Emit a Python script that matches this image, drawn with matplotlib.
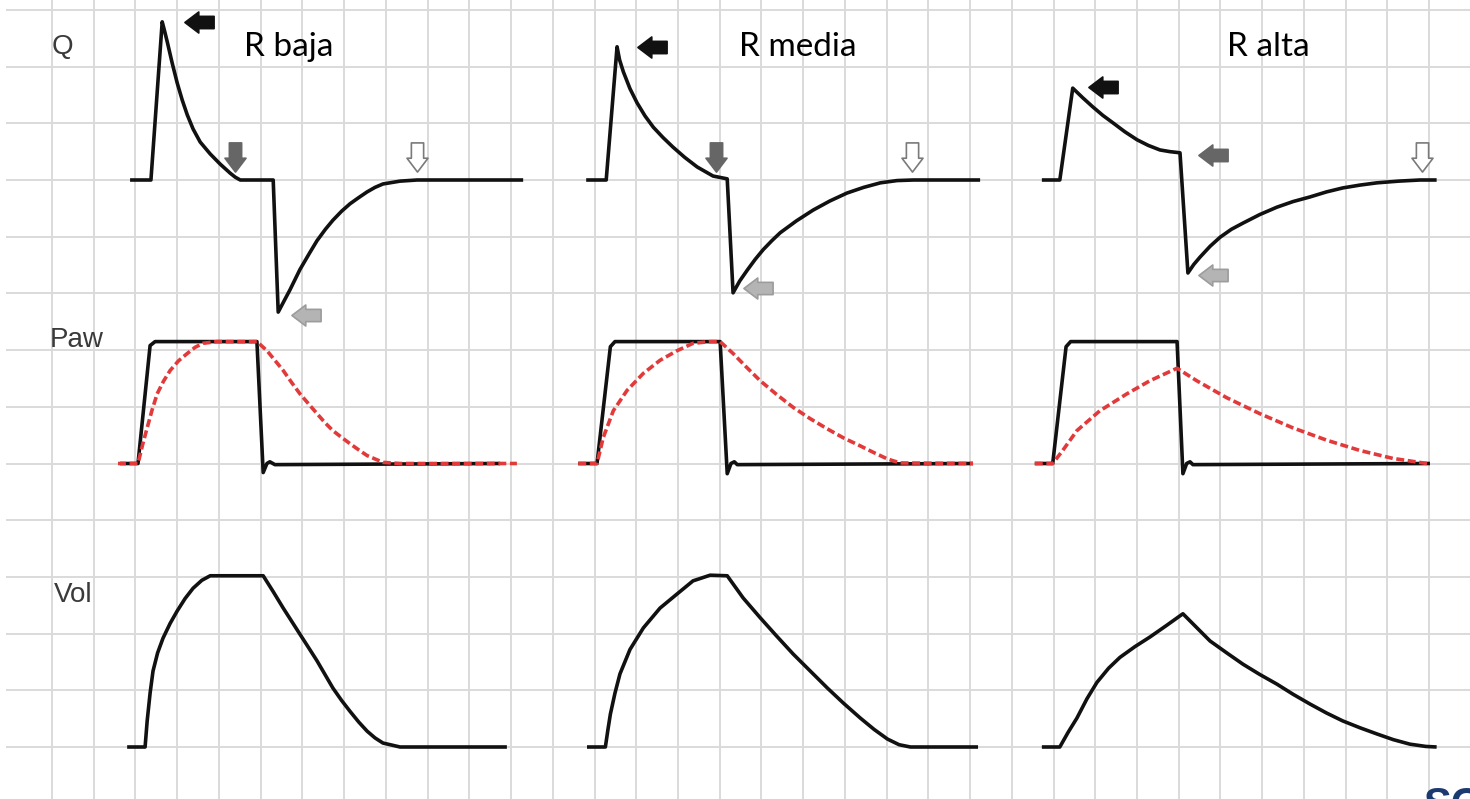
import numpy as np
import matplotlib
matplotlib.use("Agg")
import matplotlib.pyplot as plt
from matplotlib.path import Path

# grid geometry (one grid cell = one unit on each axis)
COL_PX = 41.73
ROW_PX = 56.7
W_PX, H_PX = 1470, 799
X_LEFT_PX = 10.3      # first vertical grid line
Y_BASE_PX = 747       # lowest horizontal grid line

PANEL_X0 = [2.87, 13.80, 24.72]     # start of each column of waves
BASE_Q, BASE_PAW, BASE_VOL = 10.0, 5.0, 0.0

titles = ["R baja", "R media", "R alta"]
title_dx = [3.79, 5.06, 5.42]

# ---- flow (Q) ----
q_baja_t = [0, 0.50, 0.77, 0.83, 0.89, 1.01, 1.13, 1.25, 1.37, 1.51, 1.68, 1.92, 2.16, 2.40, 2.52, 2.64, 3.43,
            3.55, 3.70, 3.83, 4.07, 4.30, 4.48, 4.68, 4.86, 5.07, 5.27, 5.48, 5.68, 5.87, 6.06, 6.47, 6.88, 9.42]
q_baja_v = [0, 0, 2.79, 2.62, 2.44, 2.06, 1.71, 1.41, 1.15, 0.90, 0.67, 0.46, 0.28, 0.12, 0.05, 0, 0,
            -2.33, -2.12, -1.94, -1.58, -1.29, -1.07, -0.87, -0.71, -0.55, -0.42, -0.31, -0.21, -0.13, -0.07, -0.02, 0, 0]

q_media_t = [0, 0.48, 0.74, 0.80, 0.89, 1.05, 1.22, 1.41, 1.61, 1.84, 2.08, 2.36, 2.66, 3.04, 3.38,
             3.52, 3.68, 3.86, 4.05, 4.24, 4.45, 4.65, 5.04, 5.44, 5.84, 6.25, 6.65, 7.05, 7.45, 7.84, 9.44]
q_media_v = [0, 0, 2.35, 2.12, 1.91, 1.61, 1.36, 1.13, 0.93, 0.75, 0.58, 0.40, 0.23, 0.07, 0.02,
             -1.99, -1.78, -1.59, -1.40, -1.23, -1.07, -0.93, -0.72, -0.53, -0.37, -0.23, -0.13, -0.05, -0.01, 0, 0]

q_alta_t = [0, 0.43, 0.74, 0.98, 1.22, 1.46, 1.70, 1.99, 2.28, 2.55, 2.83, 3.07, 3.31,
            3.50, 3.64, 3.79, 4.03, 4.27, 4.54, 4.82, 5.22, 5.63, 6.02, 6.42, 6.82, 7.21, 7.62, 8.03, 8.55, 9.06, 9.46]
q_alta_v = [0, 0, 1.62, 1.45, 1.29, 1.14, 1.01, 0.85, 0.71, 0.61, 0.53, 0.50, 0.48,
            -1.64, -1.49, -1.36, -1.17, -1.01, -0.87, -0.76, -0.61, -0.48, -0.38, -0.30, -0.21, -0.14, -0.09, -0.05, -0.02, 0, 0]

# ---- airway pressure (Paw), black ----
paw_baja_t = [-0.24, 0.19, 0.48, 0.60, 3.04, 3.19, 3.28, 3.35, 3.47, 8.87]
paw_baja_v = [0, 0, 2.08, 2.15, 2.15, -0.16, 0.0, 0.03, -0.02, 0]
paw_media_t = [-0.19, 0.26, 0.58, 0.69, 3.21, 3.38, 3.47, 3.55, 3.62, 9.27]
paw_media_v = [0, 0, 2.06, 2.15, 2.15, -0.18, 0.0, 0.03, -0.02, 0]
paw_alta_t = [-0.17, 0.26, 0.58, 0.69, 3.24, 3.38, 3.47, 3.55, 3.62, 9.30]
paw_alta_v = [0, 0, 2.06, 2.15, 2.15, -0.18, 0.0, 0.03, -0.02, 0]

# ---- alveolar pressure, red dashed ----
palv_baja_t = [-0.29, 0.19, 0.30, 0.41, 0.53, 0.65, 0.80, 0.96, 1.16, 1.37, 1.56, 1.75, 2.08, 3.04,
               3.28, 3.47, 3.67, 3.87, 4.07, 4.28, 4.48, 4.67, 4.86, 5.07, 5.27, 5.48, 5.68, 6.06, 6.47, 9.27]
palv_baja_v = [0, 0, 0.33, 0.63, 0.95, 1.23, 1.45, 1.64, 1.81, 1.94, 2.05, 2.12, 2.15, 2.15,
               1.99, 1.82, 1.64, 1.43, 1.23, 1.05, 0.88, 0.72, 0.58, 0.46, 0.35, 0.24, 0.14, 0.02, 0, 0]
palv_media_t = [-0.19, 0.26, 0.41, 0.65, 0.98, 1.37, 1.77, 2.18, 2.56, 2.97, 3.21,
                3.52, 3.84, 4.17, 4.56, 4.96, 5.37, 5.78, 6.17, 6.57, 6.90, 7.22, 7.52, 9.27]
palv_media_v = [0, 0, 0.46, 0.93, 1.29, 1.59, 1.82, 1.99, 2.12, 2.15, 2.15,
                1.94, 1.70, 1.46, 1.22, 0.99, 0.79, 0.61, 0.45, 0.31, 0.19, 0.08, 0.01, 0]
palv_alta_t = [-0.17, 0.26, 0.50, 0.84, 1.39, 2.04, 2.59, 3.24,
               3.71, 4.43, 5.22, 6.01, 6.83, 7.62, 8.41, 9.23]
palv_alta_v = [0, 0, 0.23, 0.58, 0.93, 1.23, 1.46, 1.68,
               1.46, 1.16, 0.88, 0.63, 0.41, 0.23, 0.09, 0]

# ---- volume ----
vol_baja_t = [-0.07, 0.36, 0.41, 0.48, 0.55, 0.66, 0.79, 0.96, 1.13, 1.32, 1.51, 1.72, 1.92, 3.19,
              3.43, 3.67, 3.87, 4.07, 4.28, 4.48, 4.67, 4.86, 5.07, 5.27, 5.48, 5.68, 5.87, 6.06, 6.47, 9.03]
vol_baja_v = [0, 0, 0.46, 0.95, 1.34, 1.66, 1.92, 2.18, 2.40, 2.62, 2.80, 2.94, 3.02, 3.02,
              2.74, 2.45, 2.22, 1.99, 1.75, 1.52, 1.28, 1.04, 0.82, 0.63, 0.44, 0.28, 0.16, 0.07, 0, 0]
vol_media_t = [0.02, 0.46, 0.52, 0.58, 0.69, 0.81, 1.05, 1.37, 1.77, 2.18, 2.56, 2.97, 3.38,
               3.76, 4.17, 4.56, 4.96, 5.37, 5.78, 6.17, 6.57, 6.90, 7.22, 7.50, 7.77, 9.39]
vol_media_v = [0, 0, 0.30, 0.58, 0.95, 1.29, 1.72, 2.10, 2.45, 2.70, 2.93, 3.03, 3.02,
               2.63, 2.28, 1.96, 1.64, 1.34, 1.04, 0.77, 0.51, 0.31, 0.14, 0.04, 0, 0]
vol_alta_t = [0, 0.43, 0.63, 0.84, 1.08, 1.32, 1.60, 1.87, 2.23, 2.59, 2.98, 3.38,
              4.03, 4.43, 4.82, 5.22, 5.63, 6.02, 6.42, 6.82, 7.21, 7.62, 8.03, 8.42, 8.82, 9.20, 9.46]
vol_alta_v = [0, 0, 0.26, 0.51, 0.85, 1.14, 1.39, 1.58, 1.77, 1.94, 2.14, 2.35,
              1.87, 1.66, 1.46, 1.28, 1.11, 0.93, 0.76, 0.60, 0.46, 0.34, 0.23, 0.13, 0.05, 0.01, 0]

q_series = [(q_baja_t, q_baja_v), (q_media_t, q_media_v), (q_alta_t, q_alta_v)]
paw_series = [(paw_baja_t, paw_baja_v), (paw_media_t, paw_media_v), (paw_alta_t, paw_alta_v)]
palv_series = [(palv_baja_t, palv_baja_v), (palv_media_t, palv_media_v), (palv_alta_t, palv_alta_v)]
vol_series = [(vol_baja_t, vol_baja_v), (vol_media_t, vol_media_v), (vol_alta_t, vol_alta_v)]

# flow markers: (t, q, direction, kind) per column
arrow_marks = [
    [(1.65, 2.79, "left", "peak"), (2.52, 0.41, "down", "end_insp"),
     (6.88, 0.41, "down", "end_exp"), (4.22, -2.38, "left", "peak_exp")],
    [(1.58, 2.35, "left", "peak"), (3.12, 0.41, "down", "end_insp"),
     (7.81, 0.41, "down", "end_exp"), (4.12, -1.90, "left", "peak_exp")],
    [(1.46, 1.64, "left", "peak"), (4.10, 0.44, "left", "end_insp"),
     (9.11, 0.41, "down", "end_exp"), (4.10, -1.67, "left", "peak_exp")],
]
arrow_style = {
    "peak": dict(markerfacecolor="#111111", markeredgecolor="#111111"),
    "end_insp": dict(markerfacecolor="#666666", markeredgecolor="#666666"),
    "end_exp": dict(markerfacecolor="white", markeredgecolor="#7a7a7a"),
    "peak_exp": dict(markerfacecolor="#b4b4b4", markeredgecolor="#9c9c9c"),
}


def block_arrow(direction):
    """Filled block arrow path, pointing left by default."""
    verts = np.array([(-1, 0), (-0.05, 0.72), (-0.05, 0.42), (1, 0.42),
                      (1, -0.42), (-0.05, -0.42), (-0.05, -0.72), (-1, 0)])
    if direction == "down":
        verts = np.column_stack([-verts[:, 1], verts[:, 0]])
    codes = [Path.MOVETO] + [Path.LINETO] * 6 + [Path.CLOSEPOLY]
    return Path(verts, codes)


fig = plt.figure(figsize=(W_PX / 100, H_PX / 100), dpi=100)
ax = fig.add_axes([0, 0, 1, 1])
ax.set_xlim(-X_LEFT_PX / COL_PX, (W_PX - X_LEFT_PX) / COL_PX)
ax.set_ylim((Y_BASE_PX - H_PX) / ROW_PX, Y_BASE_PX / ROW_PX)
ax.axis("off")

# background grid
grid_kw = dict(color="#dadada", lw=1.4, zorder=0)
for k in range(1, 35):
    ax.axvline(k, **grid_kw)
for r in range(0, 14):
    ax.axhline(r, xmin=7 / W_PX, **grid_kw)

line_kw = dict(color="#111111", lw=2.6, solid_joinstyle="round", solid_capstyle="butt", zorder=3)

for i, x0 in enumerate(PANEL_X0):
    t, v = q_series[i]
    ax.plot(x0 + np.array(t), BASE_Q + np.array(v), **line_kw)
    t, v = palv_series[i]
    ax.plot(x0 + np.array(t), BASE_PAW + np.array(v), color="#e23a3a", lw=2.6,
            dashes=(2.2, 1.0), zorder=4)
    t, v = paw_series[i]
    ax.plot(x0 + np.array(t), BASE_PAW + np.array(v), **line_kw)
    t, v = vol_series[i]
    ax.plot(x0 + np.array(t), BASE_VOL + np.array(v), **line_kw)

    for at, av, direction, kind in arrow_marks[i]:
        ax.plot(x0 + at, BASE_Q + av, marker=block_arrow(direction), markersize=21,
                markeredgewidth=1.2, linestyle="none", zorder=5, **arrow_style[kind])

    ax.text(x0 + title_dx[i], 12.35, titles[i], fontsize=24, family="Lato",
            ha="center", va="center", color="black")

# trace labels
label_kw = dict(fontsize=20, family="Liberation Sans", color="#3a3a3a", ha="center", va="center")
ax.text(1.26, 12.35, "Q", **label_kw)
ax.text(1.60, 7.18, "Paw", **label_kw)
ax.text(1.50, 2.68, "Vol", **label_kw)

ax.text(33.88, -0.69, "SC", fontsize=30, fontweight="bold", family="Liberation Sans",
        color="#1b3a6f", ha="left", va="top")

fig.savefig("out.png", dpi=100)
